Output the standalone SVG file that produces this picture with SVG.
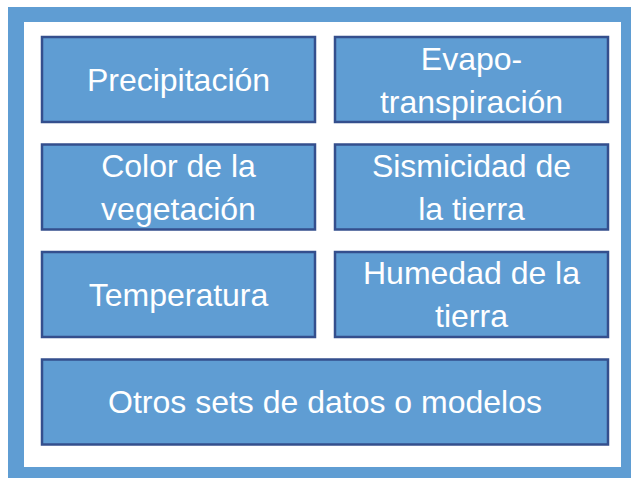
<svg xmlns="http://www.w3.org/2000/svg" width="631" height="478" viewBox="0 0 631 478">
<style>
.box{fill:#5f9dd3;stroke:#344f8d;stroke-width:2.5}
.t{fill:#ffffff;font-family:"Liberation Sans",Arial,sans-serif;font-size:32px;text-anchor:middle}
</style>
<rect x="8" y="7" width="623" height="471" fill="#5f9dd3"/>
<rect x="24" y="22" width="597" height="445" fill="#ffffff"/>
<g id="precipitacion">
<rect class="box" x="42" y="37" width="273" height="85"/>
<text class="t" x="178.5" y="91">Precipitación</text>
</g>
<g id="evapotranspiracion">
<rect class="box" x="335" y="37" width="273" height="85"/>
<text class="t" x="471.5" y="69.5">Evapo-</text>
<text class="t" x="471.5" y="112.5">transpiración</text>
</g>
<g id="color-vegetacion">
<rect class="box" x="42" y="144.5" width="273" height="85"/>
<text class="t" x="178.5" y="177">Color de la</text>
<text class="t" x="178.5" y="220">vegetación</text>
</g>
<g id="sismicidad">
<rect class="box" x="335" y="144.5" width="273" height="85"/>
<text class="t" x="471.5" y="177">Sismicidad de</text>
<text class="t" x="471.5" y="220">la tierra</text>
</g>
<g id="temperatura">
<rect class="box" x="42" y="252" width="273" height="85"/>
<text class="t" x="178.5" y="306">Temperatura</text>
</g>
<g id="humedad">
<rect class="box" x="335" y="252" width="273" height="85"/>
<text class="t" x="471.5" y="284">Humedad de la</text>
<text class="t" x="471.5" y="327">tierra</text>
</g>
<g id="otros">
<rect class="box" x="42" y="359.5" width="566" height="85"/>
<text class="t" x="325" y="413">Otros sets de datos o modelos</text>
</g>
<g id="connectors"></g>
</svg>
